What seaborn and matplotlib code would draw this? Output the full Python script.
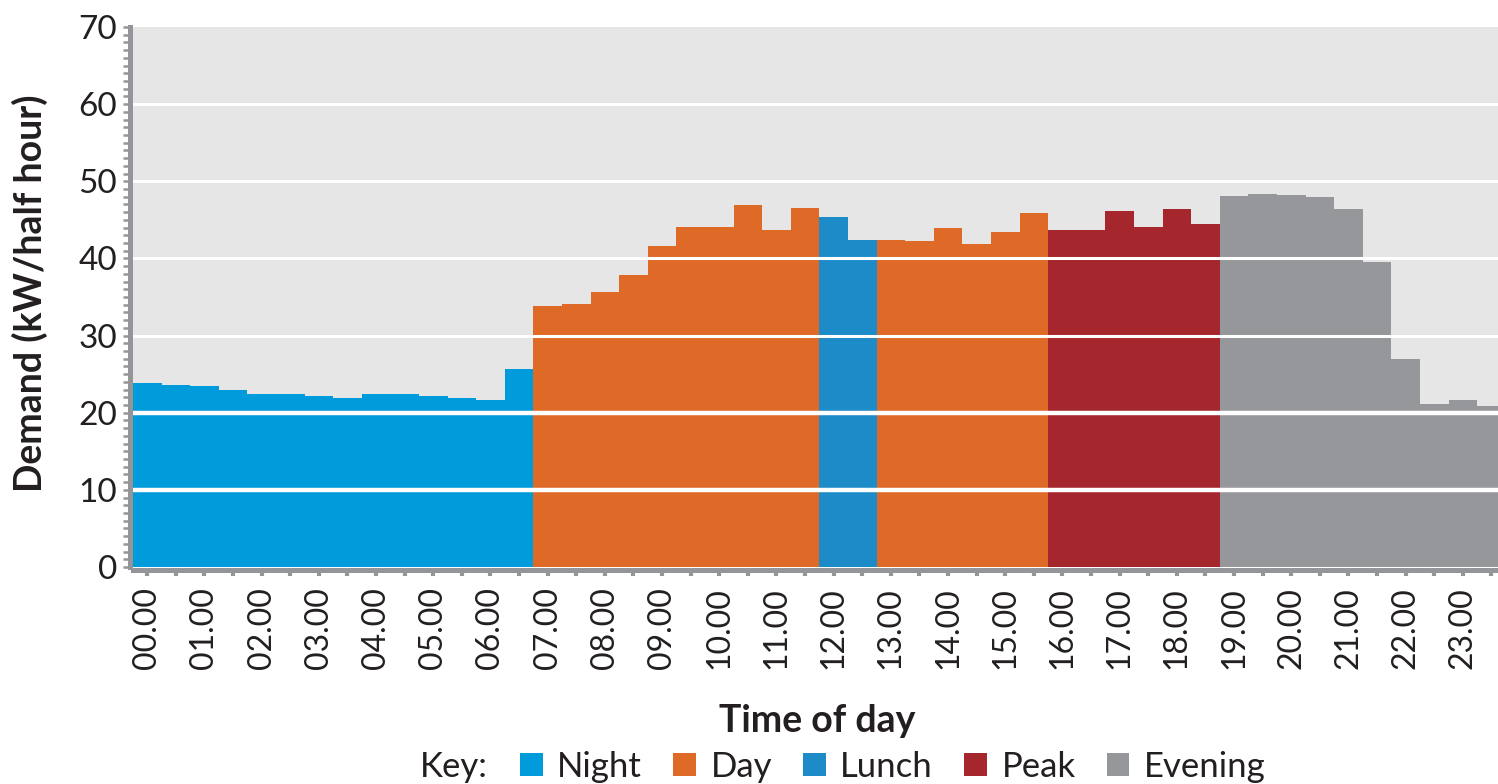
import matplotlib
matplotlib.use("Agg")
import matplotlib.pyplot as plt
import seaborn as sns
import pandas as pd
from matplotlib.patches import Patch
from matplotlib.ticker import MultipleLocator

# ---- data ----
times = [f"{h:02d}.{m}" for h in range(24) for m in ("00", "30")]
demand = [23.9, 23.6, 23.4, 22.9, 22.4, 22.4, 22.2, 21.9, 22.4, 22.4, 22.2, 21.9, 21.7, 25.7,
          33.8, 34.1, 35.6, 37.9, 41.6, 44.1, 44.1, 46.9, 43.7, 46.5,
          45.4, 42.4,
          42.4, 42.2, 43.9, 41.9, 43.4, 45.9,
          43.7, 43.7, 46.2, 44.1, 46.4, 44.4,
          48.1, 48.4, 48.2, 47.9, 46.4, 39.6, 26.9, 21.1, 21.7, 20.9]
period = (["Night"] * 14 + ["Day"] * 10 + ["Lunch"] * 2 + ["Day"] * 6
          + ["Peak"] * 6 + ["Evening"] * 10)
keys = ["Night", "Day", "Lunch", "Peak", "Evening"]
key_colors = ["#009BDA", "#DF6A28", "#1E8BC9", "#A6262D", "#96979B"]
y_ticks = [0, 10, 20, 30, 40, 50, 60, 70]
x_tick_labels = [t if t.endswith("00") else "" for t in times]

df = pd.DataFrame({"time": times, "demand": demand, "period": period})

sns.set_theme(style="white")
plt.rcParams["font.family"] = ["Lato", "DejaVu Sans"]

W, H = 1498, 784
fig = plt.figure(figsize=(W / 100, H / 100), dpi=100)
left, right, top, bottom = 133, 1498, 27, 567
ax = fig.add_axes([left / W, 1 - bottom / H, (right - left) / W, (bottom - top) / H])
ax.set_facecolor("#E6E6E6")

palette = dict(zip(keys, key_colors))
sns.barplot(data=df, x="time", y="demand", hue="period", order=times,
            hue_order=keys, palette=palette, dodge=False, width=1.0,
            saturation=1, linewidth=0, legend=False, ax=ax)

ax.set_xlim(-0.5, 47.23)
ax.set_ylim(0, 70)

# white grid lines above bars
for v in y_ticks[1:-1]:
    ax.axhline(v, color="white", lw=3.2 if v <= 20 else 2.2, zorder=3)

gray = "#939598"
txt = "#231F20"
for s in ["top", "right"]:
    ax.spines[s].set_visible(False)
for s in ["left", "bottom"]:
    ax.spines[s].set_visible(True)
    ax.spines[s].set_color(gray)
    ax.spines[s].set_linewidth(3.6)
    ax.spines[s].set_position(("outward", 2.5))

ax.set_yticks(y_ticks)
ax.yaxis.set_minor_locator(MultipleLocator(1))
ax.tick_params(axis="y", which="both", direction="out", length=5, width=1.8,
               color=gray, left=True, labelsize=24, labelcolor=txt, pad=4)
ax.set_xticks(range(len(times)))
ax.set_xticklabels(x_tick_labels, rotation=90)
ax.tick_params(axis="x", which="major", direction="out", length=4, width=3,
               color=gray, bottom=True, labelsize=23, labelcolor=txt, pad=8)

ax.set_ylabel("Demand (kW/half hour)", fontsize=27, fontweight="bold", color=txt)
ax.yaxis.set_label_coords((48 - left) / (right - left), (567 - 293) / (bottom - top))
ax.set_xlabel("Time of day", fontsize=27, fontweight="bold", color=txt)
ax.xaxis.set_label_coords((817 - left) / (right - left), -(704 - bottom) / (bottom - top))

fig.text(420 / W, 1 - 767 / H, "Key:", fontsize=25, color=txt, va="center", ha="left")
handles = [Patch(facecolor=c, edgecolor="none", label=k) for k, c in zip(keys, key_colors)]
fig.legend(handles=handles, ncol=5, loc="center left",
           bbox_to_anchor=(520 / W, 1 - 767 / H), frameon=False, fontsize=25,
           handlelength=0.65, handleheight=0.65, handletextpad=0.42,
           columnspacing=0.9, borderpad=0, borderaxespad=0,
           labelcolor=txt)

fig.savefig("out.png", dpi=100)
